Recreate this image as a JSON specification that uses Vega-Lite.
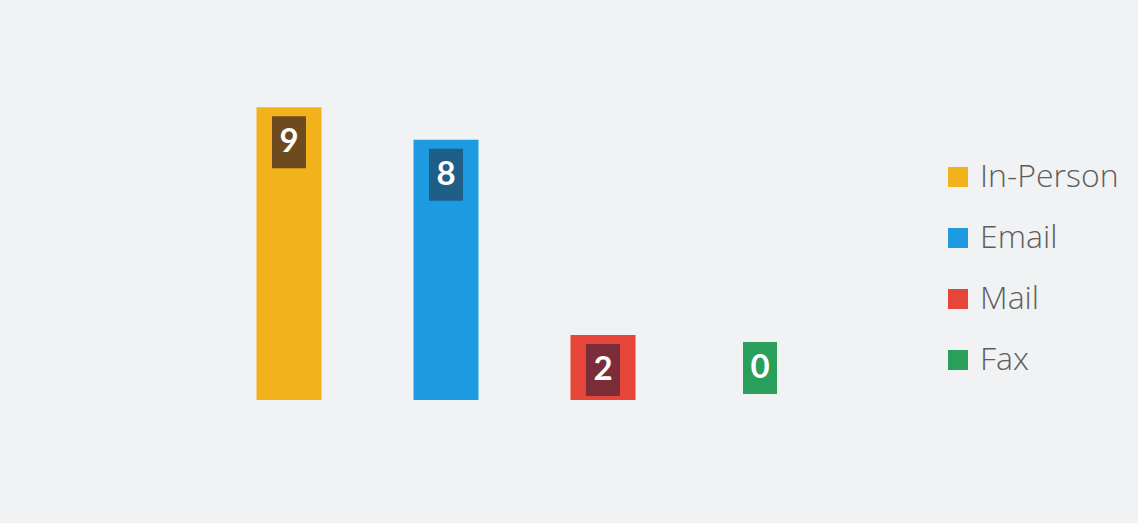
{
  "$schema": "https://vega.github.io/schema/vega-lite/v6.json",
  "width": 1138,
  "height": 523,
  "padding": 0,
  "autosize": {"type": "none"},
  "background": "#f1f2f4",
  "config": {"view": {"stroke": null}},
  "data": {"values": [
    {"channel": "In-Person", "value": 9},
    {"channel": "Email", "value": 8},
    {"channel": "Mail", "value": 2},
    {"channel": "Fax", "value": 0}
  ]},
  "encoding": {
    "x": {"field": "channel", "type": "nominal", "sort": null, "axis": null,
          "scale": {"domain": ["In-Person", "Email", "Mail", "Fax"], "range": [210.5, 838.5], "paddingInner": 0, "paddingOuter": 0}},
    "y": {"field": "value", "type": "quantitative", "axis": null, "scale": {"domain": [0, 12.3], "range": [400, 0], "nice": false, "zero": true}}
  },
  "layer": [
    {
      "mark": {"type": "bar", "width": 65},
      "encoding": {
        "color": {"field": "channel", "type": "nominal",
          "scale": {"domain": ["In-Person", "Email", "Mail", "Fax"], "range": ["#f2b21c", "#1d9ae0", "#e6463a", "#2a9f5c"]},
          "legend": {"title": null, "orient": "none", "legendX": 942, "legendY": 161, "symbolType": "square", "symbolSize": 400,
                     "symbolStrokeWidth": 0, "labelFont": "Open Sans", "labelFontWeight": 300, "labelFontSize": 32, "labelColor": "#5e5e5e", "labelOffset": 6,
                     "rowPadding": 29, "symbolOpacity": 1}
        }
      }
    },
    {
      "transform": [{"filter": "datum.value > 0"}],
      "mark": {"type": "point", "filled": true, "opacity": 1, "strokeWidth": 0, "size": 1156,
               "shape": "M-1,0.53L1,0.53L1,3.59L-1,3.59Z"},
      "encoding": {
        "fill": {"field": "channel", "type": "nominal", "legend": null,
          "scale": {"domain": ["In-Person", "Email", "Mail", "Fax"], "range": ["#6e4a1f", "#1f5e86", "#7b2d3a", "#2a9f5c"]}}
      }
    },
    {
      "transform": [{"filter": "datum.value == 0"}],
      "mark": {"type": "point", "filled": true, "opacity": 1, "strokeWidth": 0, "size": 1156, "color": "#2a9f5c",
               "shape": "M-1,-3.41L1,-3.41L1,-0.35L-1,-0.35Z"}
    },
    {
      "transform": [{"filter": "datum.value > 0"}],
      "mark": {"type": "text", "dy": 35, "baseline": "middle", "align": "center", "font": "Lato", "fontWeight": "bold", "fontSize": 33, "color": "#ffffff"},
      "encoding": {"text": {"field": "value", "type": "quantitative"}}
    },
    {
      "transform": [{"filter": "datum.value == 0"}],
      "mark": {"type": "text", "dy": -32, "baseline": "middle", "align": "center", "font": "Lato", "fontWeight": "bold", "fontSize": 33, "color": "#ffffff"},
      "encoding": {"text": {"field": "value", "type": "quantitative"}}
    }
  ]
}
